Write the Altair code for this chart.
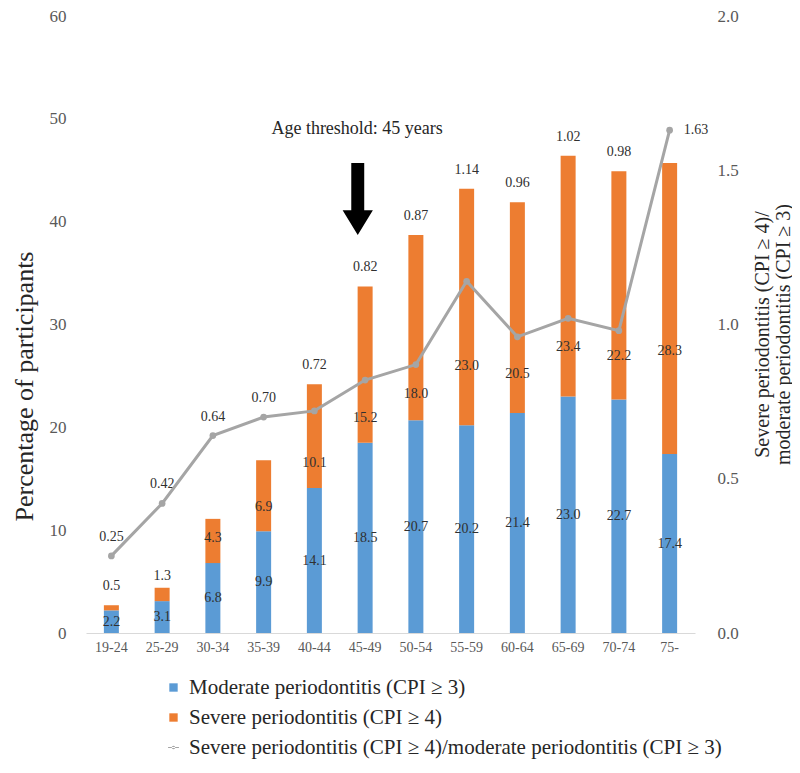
import altair as alt
import pandas as pd

# ---------------- data ----------------
ages = ["19-24", "25-29", "30-34", "35-39", "40-44", "45-49",
        "50-54", "55-59", "60-64", "65-69", "70-74", "75-"]
moderate = [2.2, 3.1, 6.8, 9.9, 14.1, 18.5, 20.7, 20.2, 21.4, 23.0, 22.7, 17.4]
severe = [0.5, 1.3, 4.3, 6.9, 10.1, 15.2, 18.0, 23.0, 20.5, 23.4, 22.2, 28.3]
ratio = [0.25, 0.42, 0.64, 0.70, 0.72, 0.82, 0.87, 1.14, 0.96, 1.02, 0.98, 1.63]

series_names = [
    "Moderate periodontitis (CPI \u2265 3)",
    "Severe periodontitis (CPI \u2265 4)",
    "Severe periodontitis (CPI \u2265 4)/moderate periodontitis (CPI \u2265 3)",
]
series_colors = ["#5B9BD5", "#ED7D31", "#A5A5A5"]

left_ticks = [0, 10, 20, 30, 40, 50, 60]
right_ticks = [0.0, 0.5, 1.0, 1.5, 2.0]

threshold_age = "45-49"
threshold_text = "Age threshold: 45 years"

# ---------------- tables ----------------
wide = pd.DataFrame({"age": ages, "moderate": moderate, "severe": severe, "ratio": ratio})
legend_df = pd.DataFrame({"series": series_names})
annot_df = pd.DataFrame({"age": [threshold_age], "label": [threshold_text]})

FONT = "Liberation Serif"
TXT = "#303030"
AX = "#595959"
LEFT_MAX = 60
RIGHT_MAX = 2.0
FACTOR = LEFT_MAX / RIGHT_MAX

ARROW = "M-0.18,-1 L0.18,-1 L0.18,0.31 L0.42,0.31 L0,1 L-0.42,0.31 L-0.18,0.31 Z"
LINE_DOT = ("M-1.3,-0.13 L1.3,-0.13 L1.3,0.13 L-1.3,0.13 Z "
            "M-0.4,0 A0.4,0.4 0 1,0 0.4,0 A0.4,0.4 0 1,0 -0.4,0 Z")

x_axis = alt.Axis(labelAngle=0, labelFont=FONT, labelFontSize=14,
                  labelColor=AX, ticks=False, domainColor="#D9D9D9",
                  domainWidth=1, labelPadding=7, grid=False, title=None)
x_enc = alt.X("age:N", sort=ages, title=None,
              scale=alt.Scale(paddingInner=0, paddingOuter=0), axis=x_axis)

left_scale = alt.Scale(domain=[0, LEFT_MAX])
left_axis = alt.Axis(values=left_ticks, format="d", labelFont=FONT,
                     labelFontSize=17, labelColor=AX, domain=False,
                     ticks=False, grid=False, labelPadding=20,
                     title="Percentage of participants", titleFont=FONT,
                     titleFontSize=26, titleFontWeight="normal",
                     titleColor="#262626", titleAngle=270,
                     titleX=-62, titleY=370, titleBaseline="middle")


def ly(field):
    return alt.Y(field, scale=left_scale, axis=left_axis,
                 title="Percentage of participants")


base = alt.Chart(wide).transform_calculate(total="datum.moderate + datum.severe")

bars_mod = base.mark_bar(size=15, color=series_colors[0]).encode(
    x=x_enc, y=ly("moderate:Q"))
bars_sev = base.mark_bar(size=15, color=series_colors[1]).encode(
    x=x_enc, y=ly("moderate:Q"), y2="total:Q")

mod_labels = base.transform_calculate(
    pos="datum.moderate / 2"
).mark_text(font=FONT, fontSize=14, color=TXT, baseline="middle").encode(
    x=x_enc, y=ly("pos:Q"), text=alt.Text("moderate:Q", format=".1f"))

sev_labels = base.transform_calculate(
    pos="max(0.6 * datum.total, datum.moderate + 2.4)"
).mark_text(
    font=FONT, fontSize=14, color=TXT, baseline="middle"
).encode(x=x_enc, y=ly("pos:Q"), text=alt.Text("severe:Q", format=".1f"))

ratio_labels = base.transform_calculate(
    pos=f"max(datum.total, datum.ratio * {FACTOR})"
).transform_filter(
    f"datum.age != '{ages[-1]}'"
).mark_text(font=FONT, fontSize=14, color=TXT, baseline="middle", dy=-19).encode(
    x=x_enc, y=ly("pos:Q"), text=alt.Text("ratio:Q", format=".2f"))

ratio_last = base.transform_calculate(
    pos=f"datum.ratio * {FACTOR}"
).transform_filter(
    f"datum.age == '{ages[-1]}'"
).mark_text(font=FONT, fontSize=14, color=TXT, baseline="middle", align="left",
            dx=14).encode(
    x=x_enc, y=ly("pos:Q"), text=alt.Text("ratio:Q", format=".2f"))

annot_text = alt.Chart(annot_df).mark_text(
    font=FONT, fontSize=18, color="#262626", baseline="middle", dx=-8
).encode(
    x=x_enc,
    y=alt.YDatum(49.0, scale=left_scale, axis=left_axis,
                 title="Percentage of participants"),
    text="label:N",
)

arrow = alt.Chart(annot_df).mark_point(
    shape=ARROW, size=5184, filled=True, color="black", opacity=1, strokeWidth=0
).encode(
    x=x_enc,
    y=alt.YDatum(42.2, scale=left_scale, axis=left_axis,
                 title="Percentage of participants"),
    xOffset=alt.value(18),
)

leg = alt.Legend(title=None, orient="none", legendX=77, legendY=661,
                 direction="vertical", labelFont=FONT, labelFontSize=21,
                 labelColor="#262626", symbolSize=70, rowPadding=8,
                 labelOffset=5, padding=0, labelLimit=800, symbolStrokeWidth=0)
legend_layer = alt.Chart(legend_df).mark_point(filled=True, opacity=1, clip=True).encode(
    x=alt.value(-500),
    y=alt.value(-500),
    color=alt.Color("series:N", scale=alt.Scale(domain=series_names,
                                                range=series_colors), legend=leg),
    shape=alt.Shape("series:N", scale=alt.Scale(domain=series_names,
                                                range=["square", "square", LINE_DOT]),
                    legend=leg),
)

left = alt.layer(bars_mod, bars_sev, mod_labels, sev_labels, ratio_labels,
                 ratio_last, annot_text, arrow, legend_layer)

right_scale = alt.Scale(domain=[0, RIGHT_MAX])
right_title = ["Severe periodontitis (CPI \u2265 4)/",
               "moderate periodontitis (CPI \u2265 3)"]
right_axis = alt.Axis(orient="right", values=right_ticks, format=".1f",
                      labelFont=FONT, labelFontSize=17, labelColor=AX,
                      domain=False, ticks=False, grid=False, labelPadding=22,
                      title=right_title,
                      titleFont=FONT, titleFontSize=20, titleFontWeight="normal",
                      titleColor="#262626", titleAngle=270, titleX=67, titleY=318,
                      titleBaseline="middle", titleLineHeight=21)

line = alt.Chart(wide).mark_line(color=series_colors[2], strokeWidth=3).encode(
    x=x_enc,
    y=alt.Y("ratio:Q", scale=right_scale, axis=right_axis, title=right_title),
)
points = alt.Chart(wide).mark_point(filled=True, size=45, color=series_colors[2],
                                    opacity=1).encode(
    x=x_enc,
    y=alt.Y("ratio:Q", scale=right_scale, axis=right_axis, title=right_title),
)
right = alt.layer(line, points)

chart = alt.layer(left, right).resolve_scale(y="independent").properties(
    width=609, height=617,
    autosize=alt.AutoSizeParams(type="none"),
    padding={"left": 78, "top": 8, "right": 97, "bottom": 131},
).configure(background="white", font=FONT).configure_view(stroke=None).configure_legend(
    labelFont=FONT, labelFontSize=21
)

chart.save("out.html", embed_options={"renderer": "svg", "actions": False})
